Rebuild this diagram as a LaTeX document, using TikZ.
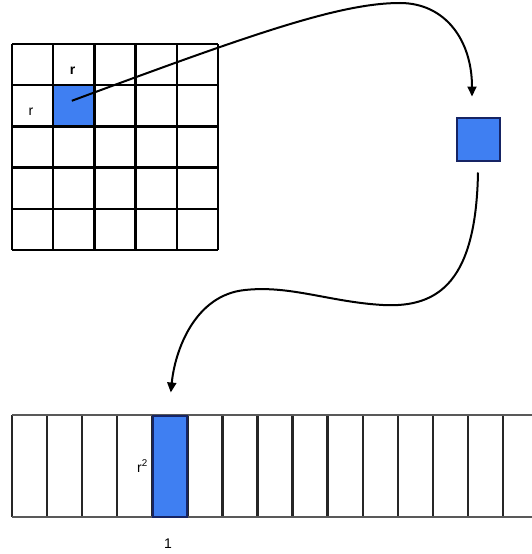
\documentclass[tikz,border=0pt]{standalone}
\usepackage{fontspec}
\setmainfont{Liberation Sans}
\usetikzlibrary{arrows.meta,calc}
\definecolor{cellblue}{RGB}{63,127,242}
\definecolor{navy}{RGB}{22,36,100}
\tikzset{
  gridline/.style={line width=2.4pt, black},
  stripv/.style={line width=2.3pt, black!85},
  striph/.style={line width=2.6pt, black!65},
  bluefill/.style={fill=cellblue, inner sep=0pt},
  bluebox/.style={fill=cellblue, draw=navy, line width=2pt, inner sep=0pt},
  curvearrow/.style={line width=2pt, black, -{Triangle[length=10pt,width=9pt]}},
  lbl/.style={font=\fontsize{14}{14}\selectfont, inner sep=0pt}
}
\begin{document}
\begin{tikzpicture}[x=1pt,y=-1pt]
\useasboundingbox (0,0) rectangle (532,554);
% grid
\node[bluefill, minimum size=41.2pt] (bluecell) at (73.8,105.8) {};
\foreach \i in {0,...,5} {
  \draw[gridline] (12+41.2*\i,44) -- (12+41.2*\i,250);
  \draw[gridline] (12,44+41.2*\i) -- (218,44+41.2*\i);
}
\node[lbl, anchor=base] (rtop) at (72.5,74) {\bfseries r};
\node[lbl, anchor=base] (rleft) at (31,115) {r};
% small square
\node[bluebox, minimum size=43pt] (sq) at (478,139) {};
% strip
\foreach \k in {0,...,14} {
  \draw[stripv] (12+35.07*\k,415) -- (12+35.07*\k,517);
}
\draw[striph] (12,415) -- (532,415);
\draw[striph] (12,517) -- (532,517);
\node[bluebox, minimum width=34.5pt, minimum height=101pt] (bluebar) at (169.8,466) {};
\node[lbl, anchor=base east] (rsq) at (148,472) {r\textsuperscript{2}};
\node[lbl, anchor=base] (one) at (168,548) {1};
% curves
\draw[curvearrow] ($(bluecell.center)+(-2,-5)$) .. controls (252,34) and (340,3) .. (400,3)
  .. controls (445,3) and (472,40) .. ($(sq.north)+(-6,-20)$);
\draw[curvearrow] ($(sq.south)+(0,11)$) .. controls (476,280) and (440,308) .. (383,305)
  .. controls (330,302) and (290,285) .. (245,290)
  .. controls (195,295) and (175,350) .. ($(bluebar.north)+(1,-22)$);
\end{tikzpicture}
\end{document}
